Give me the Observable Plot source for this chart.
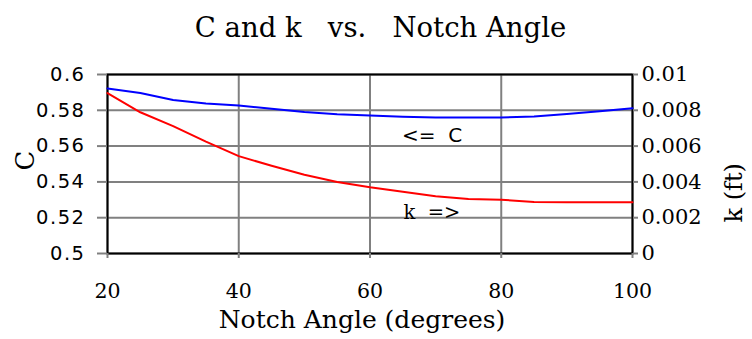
<!DOCTYPE html>
<html>
<head>
<meta charset="utf-8">
<script src="https://cdn.jsdelivr.net/npm/d3@7"></script>
<script src="https://cdn.jsdelivr.net/npm/@observablehq/plot@0.6"></script>
<style>
  html, body { margin: 0; padding: 0; background: #fff; }
  svg { display: block; }
</style>
</head>
<body>
<div id="chart"></div>
<script>
// ---- data ----
const angles = [20, 25, 30, 35, 40, 45, 50, 55, 60, 65, 70, 75, 80, 85, 90, 95, 100];
const cValues = [0.5922, 0.5897, 0.5858, 0.5838, 0.5827, 0.5808, 0.5790, 0.5778, 0.5771, 0.5764, 0.5760, 0.5760, 0.5760, 0.5766, 0.5780, 0.5795, 0.5812];
const kValues = [0.00896, 0.00789, 0.00712, 0.00625, 0.00544, 0.0049, 0.0044, 0.0040, 0.0037, 0.00345, 0.0032, 0.00305, 0.0030, 0.00288, 0.00287, 0.00287, 0.00287];
const xTicks = [20, 40, 60, 80, 100];
const cTicks = [0.5, 0.52, 0.54, 0.56, 0.58, 0.6];
const kTicks = [0, 0.002, 0.004, 0.006, 0.008, 0.01];
const kLabels = ["0", "0.002", "0.004", "0.006", "0.008", "0.01"];
const cLabels = ["0.5", "0.52", "0.54", "0.56", "0.58", "0.6"];
const annotations = [
  {x: 69.45, y: 0.5659, text: "<=  C", font: "sans"},
  {x: 69.45, y: 0.5225, text: "k  =>", font: "serif"}
];

// map k (right axis, 0..0.01) onto the C scale (0.5..0.6)
const kToC = k => 0.5 + k * 10;

const cData = angles.map((a, i) => ({angle: a, value: cValues[i]}));
const kData = angles.map((a, i) => ({angle: a, value: kToC(kValues[i])}));

const SANS = "'DejaVu Sans', sans-serif";
const SERIF = "'DejaVu Serif', serif";

const chart = Plot.plot({
  width: 752,
  height: 339,
  marginTop: 74,
  marginBottom: 86,
  marginLeft: 107,
  marginRight: 120,
  style: {background: "#fff", overflow: "visible", color: "#000"},
  x: {domain: [20, 100], axis: null},
  y: {domain: [0.5, 0.6], axis: null},
  marks: [
    Plot.gridX({ticks: xTicks, stroke: "#808080", strokeOpacity: 1, strokeWidth: 2}),
    Plot.gridY({ticks: cTicks, stroke: "#808080", strokeOpacity: 1, strokeWidth: 2}),
    Plot.frame({stroke: "#000", strokeWidth: 2}),
    Plot.axisY({
      anchor: "left", ticks: cTicks, label: null, ariaLabel: "left-axis",
      tickFormat: d => cLabels[cTicks.findIndex(t => Math.abs(t - d) < 1e-9)],
      tickSize: 10, tickPadding: 12, fontSize: 19.5, fontFamily: SANS, stroke: "#808080", strokeWidth: 2
    }),
    Plot.axisY({
      anchor: "right", ticks: kTicks.map(kToC), label: null, ariaLabel: "right-axis",
      tickFormat: d => kLabels[kTicks.findIndex(t => Math.abs(kToC(t) - d) < 1e-9)],
      tickSize: 5, tickPadding: 4, fontSize: 21, fontFamily: SERIF, stroke: "#808080", strokeWidth: 2
    }),
    Plot.axisX({
      anchor: "bottom", ticks: xTicks, label: null, ariaLabel: "bottom-axis", tickFormat: d => String(d),
      tickSize: 5, tickPadding: 25, fontSize: 20.5, fontFamily: SERIF, stroke: "#808080", strokeWidth: 2
    }),
    Plot.line(cData, {x: "angle", y: "value", stroke: "#0000ff", strokeWidth: 2}),
    Plot.line(kData, {x: "angle", y: "value", stroke: "#ff0000", strokeWidth: 2}),
    Plot.text(annotations.filter(d => d.font === "sans"), {x: "x", y: "y", text: "text", fontSize: 20, fontFamily: SANS, fill: "#000", lineAnchor: "middle"}),
    Plot.text(annotations.filter(d => d.font === "serif"), {x: "x", y: "y", text: "text", fontSize: 19.5, fontFamily: SERIF, fill: "#000", lineAnchor: "middle"}),
    Plot.text(["C and k   vs.   Notch Angle"], {frameAnchor: "top", lineAnchor: "middle", dx: 10.5, dy: -46.8, fontSize: 27.5, fontFamily: SERIF, fill: "#000", ariaLabel: "chart-title"}),
    Plot.text(["Notch Angle (degrees)"], {frameAnchor: "bottom", lineAnchor: "middle", dx: -8, dy: 66, fontSize: 25, fontFamily: SERIF, fill: "#000", ariaLabel: "x-title"}),
    Plot.text(["C"], {frameAnchor: "left", lineAnchor: "middle", dx: -82, dy: 6.5, rotate: -90, fontSize: 26, fontFamily: SERIF, fill: "#000", ariaLabel: "c-title"}),
    Plot.text(["k (ft)"], {frameAnchor: "right", lineAnchor: "middle", dx: 102, dy: -1, rotate: -90, fontSize: 24, fontFamily: SERIF, fill: "#000", ariaLabel: "k-title"})
  ]
});
chart.querySelectorAll("text").forEach(t => { t.setAttribute("xml:space", "preserve"); t.style.whiteSpace = "pre"; });
const spacing = {"left-axis": "1.5px", "x-title": "0.9px", "k-title": "1.5px"};
for (const [label, ls] of Object.entries(spacing)) {
  chart.querySelectorAll(`[aria-label^="${label}"] text, text[aria-label^="${label}"]`).forEach(t => t.style.letterSpacing = ls);
}
document.getElementById("chart").appendChild(chart);
</script>
</body>
</html>
